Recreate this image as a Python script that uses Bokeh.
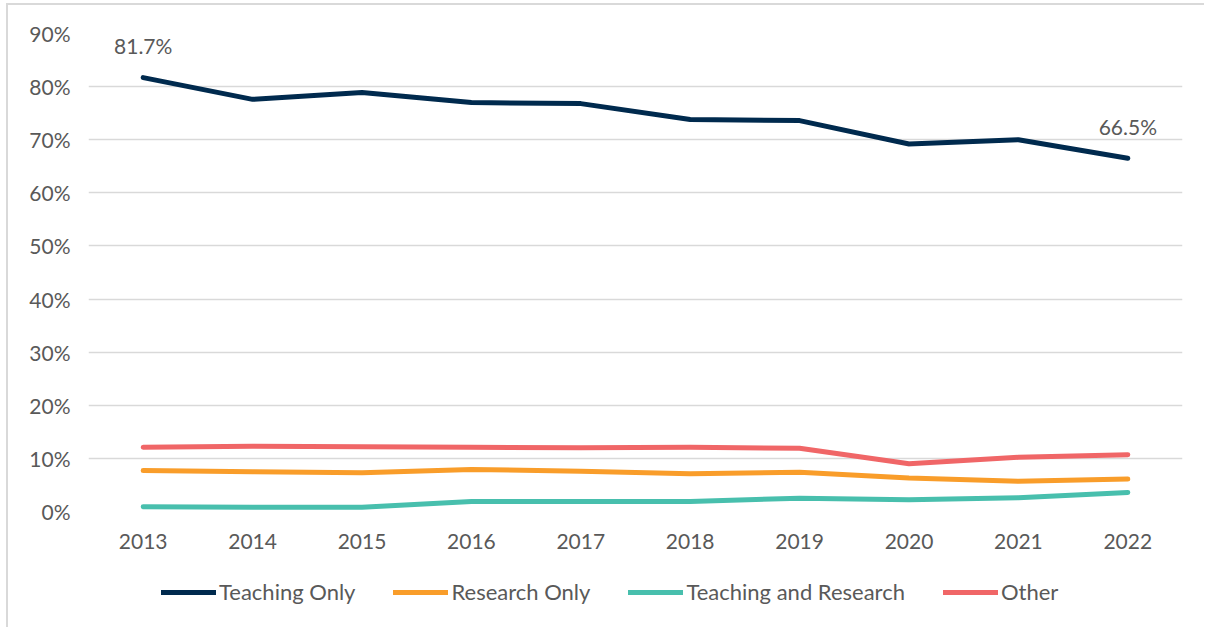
from bokeh.plotting import figure
from bokeh.layouts import column
from bokeh.models import FactorRange, Range1d, Legend, LegendItem, FixedTicker
from bokeh.embed import file_html
from bokeh.resources import INLINE
from bokeh.core.properties import value

years = ["2013", "2014", "2015", "2016", "2017", "2018", "2019", "2020", "2021", "2022"]
teaching_only = [81.7, 77.6, 78.9, 77.0, 76.8, 73.8, 73.6, 69.2, 70.0, 66.5]
research_only = [7.7, 7.5, 7.3, 7.9, 7.6, 7.1, 7.4, 6.3, 5.7, 6.1]
teaching_research = [0.9, 0.8, 0.8, 1.9, 1.9, 1.9, 2.5, 2.2, 2.6, 3.6]
other = [12.1, 12.3, 12.2, 12.1, 12.0, 12.1, 11.9, 9.0, 10.2, 10.7]
series_names = ["Teaching Only", "Research Only", "Teaching and Research", "Other"]
series_values = [teaching_only, research_only, teaching_research, other]
colors = ["#002a4e", "#f99d2a", "#48bfad", "#f06667"]
y_ticks = [0, 10, 20, 30, 40, 50, 60, 70, 80, 90]

FONT = "Lato"
GREY = "#595959"

p = figure(
    x_range=FactorRange(factors=years, range_padding=0),
    y_range=Range1d(0, 90),
    frame_width=1094, frame_height=478,
    min_border_left=80, min_border_top=28, min_border_right=22, min_border_bottom=60,
    output_backend="svg", toolbar_location=None,
)
p.outline_line_color = None
p.xgrid.grid_line_color = None
p.ygrid.grid_line_color = "#d9d9d9"
p.ygrid.grid_line_width = 1.5
p.ygrid.ticker = FixedTicker(ticks=y_ticks)

p.yaxis.ticker = FixedTicker(ticks=y_ticks)
p.yaxis.major_label_overrides = {t: f"{t}%" for t in y_ticks}
for ax in (p.xaxis, p.yaxis):
    ax.axis_line_color = None
    ax.major_tick_line_color = None
    ax.minor_tick_line_color = None
    ax.major_tick_out = 0
    ax.major_tick_in = 0
    ax.minor_tick_out = 0
    ax.major_label_text_font = FONT
    ax.major_label_text_font_size = "21px"
    ax.major_label_text_color = GREY
p.yaxis.major_label_standoff = 18
p.xaxis.major_label_standoff = 22

for name, vals, col in zip(series_names, series_values, colors):
    p.line(years, vals, line_color=col, line_width=5, line_cap="round", line_join="round")

# data labels for first and last point of Teaching Only
p.text(x=[years[0], years[-1]], y=[teaching_only[0], teaching_only[-1]],
       text=[f"{teaching_only[0]:.1f}%", f"{teaching_only[-1]:.1f}%"],
       text_align="center", text_baseline="middle", y_offset=-32,
       text_font=value(FONT), text_font_size="21px", text_color=GREY)

# legend strip below the chart (its own small figure; lines kept out of view)
lg = figure(
    x_range=FactorRange(factors=years, range_padding=0),
    y_range=Range1d(1000, 1001),
    width=1196, height=56,
    min_border_left=0, min_border_top=0, min_border_right=0, min_border_bottom=0,
    output_backend="svg", toolbar_location=None,
)
lg.axis.visible = False
lg.grid.visible = False
lg.outline_line_color = None
items = []
for name, vals, col in zip(series_names, series_values, colors):
    r = lg.line(years, vals, line_color=col, line_width=5, line_cap="round", line_join="round")
    items.append(LegendItem(label=name, renderers=[r]))
legend = Legend(items=items, orientation="horizontal", location=(73, 22),
                glyph_width=55, glyph_height=20, label_standoff=3, spacing=38,
                label_text_font=FONT, label_text_font_size="22px", label_text_color=GREY,
                border_line_color=None, background_fill_alpha=0, padding=0, margin=0)
lg.add_layout(legend)

page = column(p, lg, spacing=0)
page.styles = {"border-left": "2px solid #d9d9d9", "border-top": "2px solid #d9d9d9",
               "margin-left": "6px", "margin-top": "3px"}

open("out.html", "w").write(file_html(page, INLINE))
